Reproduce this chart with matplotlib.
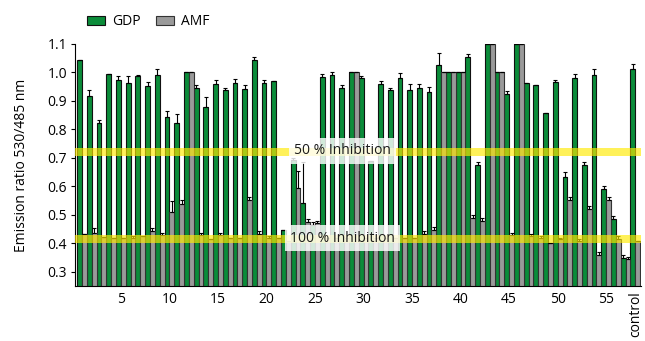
import matplotlib
matplotlib.use("Agg")
import matplotlib.pyplot as plt
import numpy as np

categories = [str(i) for i in range(1, 58)] + ["control"]
tick_labels = ["5", "10", "15", "20", "25", "30", "35", "40", "45", "50", "55", "control"]
tick_groups = [5, 10, 15, 20, 25, 30, 35, 40, 45, 50, 55, 58]

gdp = [1.044, 0.918, 0.824, 0.994, 0.972, 0.962, 0.987, 0.953, 0.991, 0.843,
       0.824, 1.0, 0.947, 0.879, 0.958, 0.937, 0.962, 0.941, 1.044, 0.964,
       0.971, 0.447, 0.691, 0.540, 0.465, 0.985, 0.990, 0.947, 1.0, 0.979,
       0.689, 0.959, 0.937, 0.979, 0.938, 0.944, 0.930, 1.025, 1.0, 1.0,
       1.055, 0.675, 1.1, 1.0, 0.924, 1.1, 0.964, 0.955, 0.858, 0.965,
       0.632, 0.979, 0.674, 0.991, 0.591, 0.486, 0.350, 1.011]
gdp_err = [0.0, 0.02, 0.01, 0.0, 0.015, 0.025, 0.005, 0.015, 0.02, 0.02,
           0.03, 0.0, 0.01, 0.035, 0.015, 0.01, 0.015, 0.015, 0.01, 0.01,
           0.0, 0.0, 0.01, 0.145, 0.01, 0.01, 0.01, 0.01, 0.0, 0.01,
           0.0, 0.01, 0.01, 0.02, 0.02, 0.015, 0.02, 0.045, 0.0, 0.0,
           0.01, 0.01, 0.0, 0.0, 0.01, 0.0, 0.0, 0.0, 0.0, 0.01,
           0.02, 0.015, 0.01, 0.02, 0.01, 0.01, 0.01, 0.02]
amf = [0.433, 0.435, 0.421, 0.42, 0.42, 0.42, 0.425, 0.443, 0.43, 0.509,
       0.539, 1.0, 0.43, 0.415, 0.43, 0.42, 0.42, 0.553, 0.433, 0.42,
       0.42, 0.41, 0.595, 0.474, 0.47, 0.42, 0.42, 0.42, 1.0, 0.42,
       0.42, 0.42, 0.42, 0.42, 0.42, 0.433, 0.447, 1.0, 1.0, 1.0,
       0.49, 0.48, 1.1, 1.0, 0.43, 1.1, 0.427, 0.42, 0.40, 0.415,
       0.554, 0.41, 0.521, 0.36, 0.554, 0.415, 0.346, 0.408]
amf_err = [0.0, 0.02, 0.0, 0.0, 0.0, 0.005, 0.0, 0.01, 0.005, 0.04,
           0.015, 0.0, 0.005, 0.0, 0.005, 0.0, 0.0, 0.01, 0.01, 0.005,
           0.0, 0.0, 0.06, 0.01, 0.01, 0.0, 0.0, 0.0, 0.0, 0.0,
           0.0, 0.0, 0.0, 0.0, 0.0, 0.01, 0.01, 0.0, 0.0, 0.0,
           0.01, 0.01, 0.0, 0.0, 0.005, 0.0, 0.005, 0.005, 0.0, 0.005,
           0.01, 0.005, 0.01, 0.01, 0.01, 0.01, 0.005, 0.0]

line_50 = 0.721
line_100 = 0.416

plt.rcParams['font.family'] = ['Open Sans', 'DejaVu Sans']

fig = plt.figure(figsize=(6.45, 3.41), dpi=100)
ax = fig.add_axes([0.117, 0.161, 0.877, 0.710])

x = np.arange(1, len(categories) + 1)
w = 0.5
green = "#0b8c3a"
grey = "#9a9a9a"
zeros = np.zeros(len(x))

ax.bar(x - w / 2, gdp, width=w, color=green, edgecolor="#111111", linewidth=0.8,
       label="GDP", zorder=2)
ax.bar(x + w / 2, amf, width=w, color=grey, edgecolor="#333333", linewidth=0.8,
       label="AMF", zorder=2)
ax.errorbar(x - w / 2, gdp, yerr=[zeros, gdp_err], fmt="none", ecolor="black",
            elinewidth=0.8, capsize=1.6, capthick=0.8, zorder=3)
ax.errorbar(x + w / 2, amf, yerr=[zeros, amf_err], fmt="none", ecolor="black",
            elinewidth=0.8, capsize=1.6, capthick=0.8, zorder=3)

ax.axhspan(line_50 - 0.014, line_50 + 0.014, color="#ffea00", alpha=0.65, lw=0, zorder=4)
ax.axhspan(line_100 - 0.014, line_100 + 0.014, color="#ffea00", alpha=0.65, lw=0, zorder=4)

box = dict(boxstyle="square,pad=0.38", facecolor="white", edgecolor="none", alpha=0.82)
ax.text(27.85, line_50 + 0.004, "50 % Inhibition", ha="center", va="center",
        fontsize=10, color="#1a1a1a", bbox=box, zorder=5)
ax.text(27.85, line_100 + 0.002, "100 % Inhibition", ha="center", va="center",
        fontsize=10, color="#1a1a1a", bbox=box, zorder=5)

ax.set_xlim(0.32, 58.6)
ax.set_ylim(0.25, 1.1)
ax.set_yticks(np.arange(0.3, 1.101, 0.1))
ax.set_yticklabels([f"{v:.1f}" for v in np.arange(0.3, 1.101, 0.1)])
ax.set_xticks(tick_groups)
ax.set_xticklabels(tick_labels)
for lab in ax.get_xticklabels():
    if lab.get_text() == "control":
        lab.set_rotation(90)
        lab.set_va("top")
ax.tick_params(axis="x", length=0, pad=4, labelsize=10)
ax.tick_params(axis="y", length=3, width=0.8, labelsize=10, pad=3)
ax.spines["top"].set_visible(False)
ax.spines["right"].set_visible(False)
ax.spines["left"].set_linewidth(0.8)
ax.spines["bottom"].set_linewidth(0.8)
ax.set_ylabel("Emission ratio 530/485 nm", fontsize=10, labelpad=13)

fig.legend(loc="upper left", bbox_to_anchor=(0.126, 0.975), ncol=2, frameon=False,
           fontsize=10, handlelength=1.3, handleheight=0.65, columnspacing=1.1,
           handletextpad=0.5, borderaxespad=0.0)

fig.savefig("out.png", dpi=100)
